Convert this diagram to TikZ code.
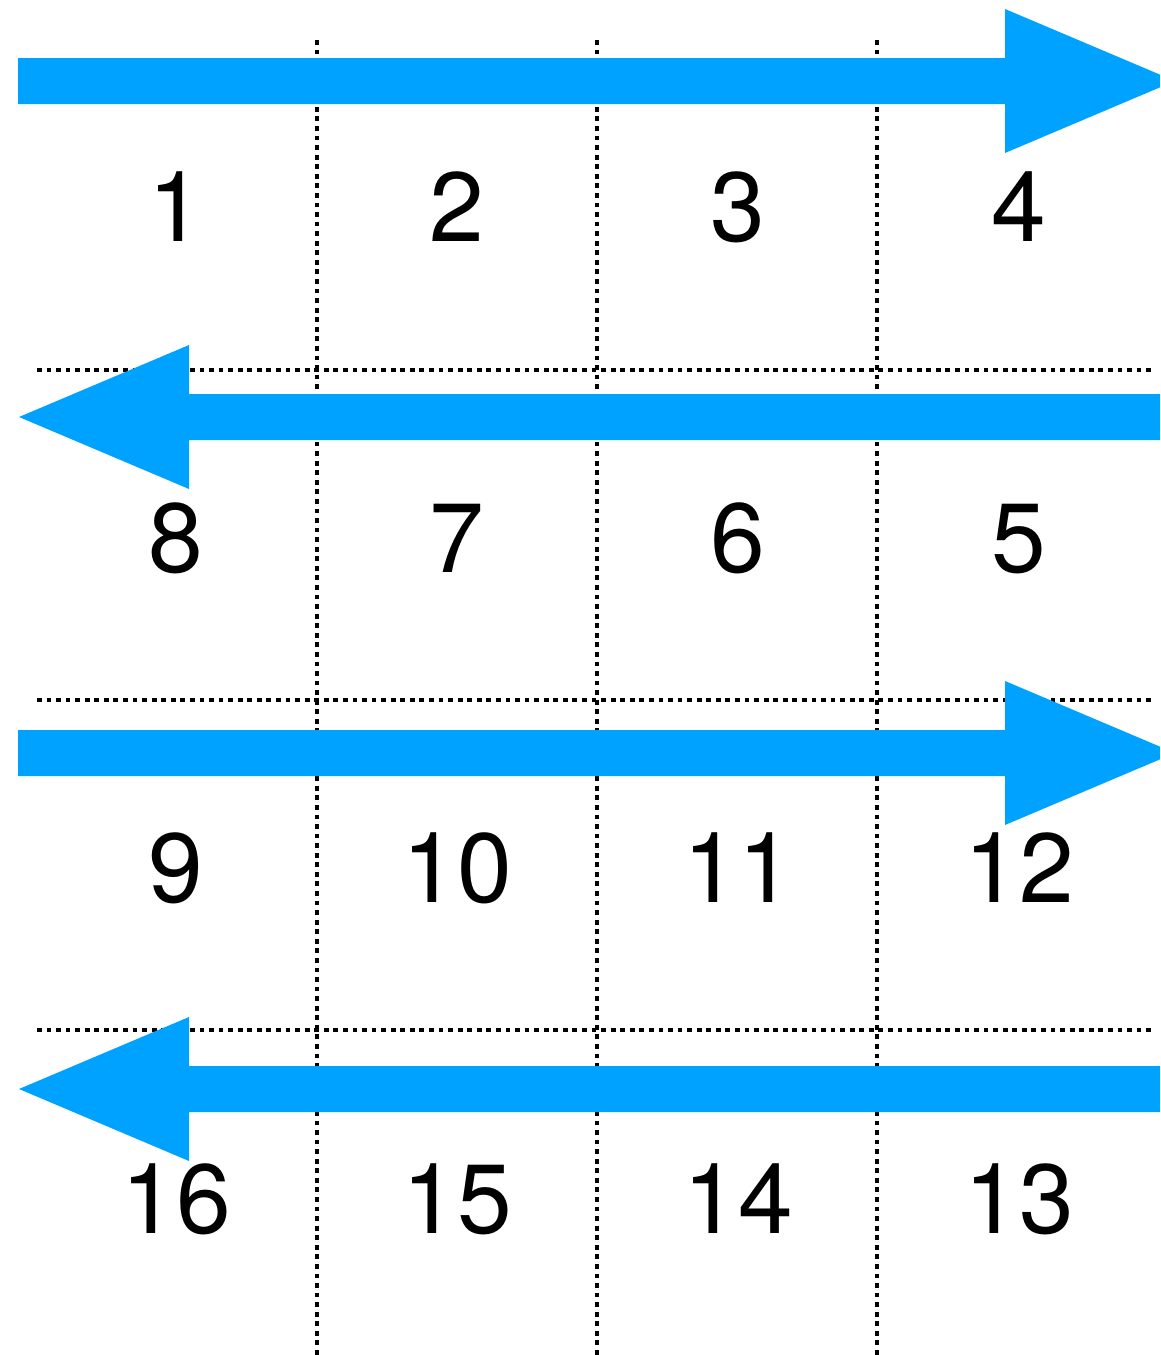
\documentclass[tikz,border=0pt]{standalone}
\usepackage{fontspec}
\setmainfont{TeX Gyre Heros}
\usepackage{tikz}
\definecolor{flowblue}{HTML}{00A2FF}
\tikzset{
    gridline/.style={line width=2.2pt, dash pattern=on 3.4pt off 3.4pt},
    cellnum/.style={anchor=base, inner sep=0pt, font=\fontsize{70}{70}\selectfont},
    % block arrow, drawn from the start of the shaft to the tip
    rowarrow/.pic={
        \fill[flowblue] (0,-23) -- (987,-23) -- (987,-72) -- (1157,0) -- (987,72) -- (987,23) -- (0,23) -- cycle;
    }
}
\begin{document}
\begin{tikzpicture}[x=0.025cm,y=-0.025cm]
        \path[use as bounding box, clip] (0,0) rectangle (1160,1355);
        % dashed cell borders
        \foreach \gx in {317,597,877}
            \draw[gridline] (\gx,40) -- (\gx,1355);
        \foreach \gy in {370,700,1030}
            \draw[gridline] (37,\gy) -- (1152,\gy);
        % the snake order
        \pic at (18,81) {rowarrow};
        \pic[xscale=-1] at (1176,417) {rowarrow};
        \pic at (18,753) {rowarrow};
        \pic[xscale=-1] at (1176,1089) {rowarrow};
        % cell numbers
        \foreach \num/\col/\base in {1/0/241, 2/1/241, 3/2/241, 4/3/241,
                                    8/0/572, 7/1/572, 6/2/572, 5/3/572,
                                    9/0/902, 10/1/902, 11/2/902, 12/3/902,
                                    16/0/1233, 15/1/1233, 14/2/1233, 13/3/1233}
            \node[cellnum] (cell\num) at ({176+281*\col},\base) {\num};
    \end{tikzpicture}
\end{document}
